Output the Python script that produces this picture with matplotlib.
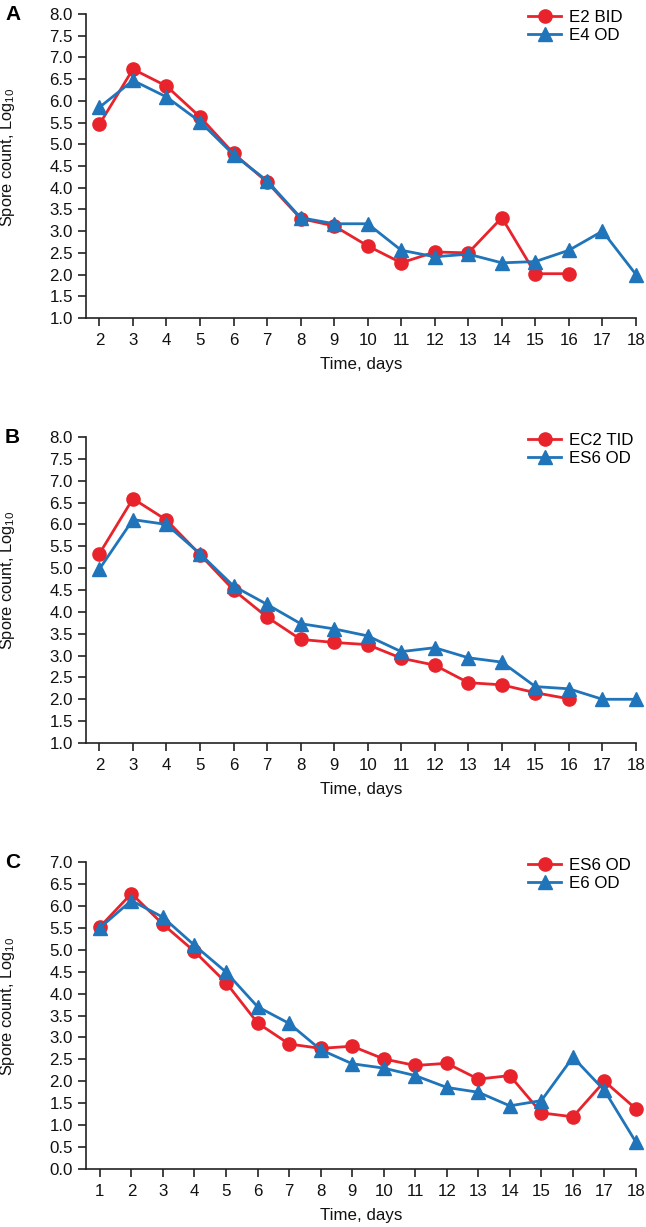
import matplotlib
matplotlib.use("Agg")
import matplotlib.pyplot as plt
import numpy as np

plt.rcParams['font.family'] = ['Liberation Sans', 'DejaVu Sans']
plt.rcParams['mathtext.default'] = 'regular'

RED = '#E8232B'
BLUE = '#1F74BA'

# Panel A
a_days_red = list(range(2, 17))
a_e2_bid = [5.46, 6.73, 6.34, 5.63, 4.79, 4.13, 3.29, 3.12, 2.66, 2.27, 2.52, 2.50, 3.31, 2.02, 2.02]
a_days_blue = list(range(2, 19))
a_e4_od = [5.85, 6.47, 6.09, 5.52, 4.76, 4.16, 3.31, 3.17, 3.17, 2.56, 2.41, 2.47, 2.27, 2.30, 2.56, 3.00, 2.00]

# Panel B
b_days_red = list(range(2, 17))
b_ec2_tid = [5.33, 6.59, 6.10, 5.31, 4.50, 3.88, 3.37, 3.30, 3.25, 2.94, 2.78, 2.38, 2.33, 2.15, 2.01]
b_days_blue = list(range(2, 19))
b_es6_od = [4.98, 6.11, 6.00, 5.33, 4.59, 4.17, 3.73, 3.61, 3.45, 3.09, 3.18, 2.95, 2.85, 2.29, 2.24, 2.00, 2.00]

# Panel C
c_days = list(range(1, 19))
c_es6_od = [5.52, 6.28, 5.58, 4.96, 4.25, 3.33, 2.85, 2.75, 2.80, 2.51, 2.36, 2.41, 2.05, 2.13, 1.28, 1.19, 2.00, 1.37]
c_e6_od = [5.50, 6.12, 5.74, 5.10, 4.49, 3.70, 3.32, 2.72, 2.40, 2.30, 2.13, 1.86, 1.75, 1.44, 1.56, 2.55, 1.79, 0.61]

panels = [
    dict(letter='A', xr=a_days_red, yr=a_e2_bid, lr='E2 BID', xb=a_days_blue, yb=a_e4_od, lb='E4 OD',
         ylim=(1.0, 8.0), xticks=list(range(2, 19)), xlim=(1.6, 18)),
    dict(letter='B', xr=b_days_red, yr=b_ec2_tid, lr='EC2 TID', xb=b_days_blue, yb=b_es6_od, lb='ES6 OD',
         ylim=(1.0, 8.0), xticks=list(range(2, 19)), xlim=(1.6, 18)),
    dict(letter='C', xr=c_days, yr=c_es6_od, lr='ES6 OD', xb=c_days, yb=c_e6_od, lb='E6 OD',
         ylim=(0.0, 7.0), xticks=list(range(1, 19)), xlim=(0.56, 18)),
]

W, H = 646, 1227
fig = plt.figure(figsize=(W / 100, H / 100), dpi=100)

tops = [14, 437, 862]
bottoms = [318, 743, 1169]
left_px, right_px = 86, 636
FS = 12.2
SPINE = '#222222'

for p, t, b in zip(panels, tops, bottoms):
    ax = fig.add_axes([left_px / W, 1 - b / H, (right_px - left_px) / W, (b - t) / H])
    ax.plot(p['xr'], p['yr'], color=RED, lw=2.0, marker='o', ms=9.5, label=p['lr'], clip_on=False, zorder=3)
    ax.plot(p['xb'], p['yb'], color=BLUE, lw=2.0, marker='^', ms=9.5, label=p['lb'], clip_on=False, zorder=4)
    ax.set_xlim(*p['xlim'])
    ax.set_ylim(*p['ylim'])
    ax.set_xticks(p['xticks'])
    yt = np.arange(p['ylim'][0], p['ylim'][1] + 0.01, 0.5)
    ax.set_yticks(yt)
    ax.set_yticklabels([f'{v:.1f}' for v in yt])
    for s in ['top', 'right']:
        ax.spines[s].set_visible(False)
    for s in ['left', 'bottom']:
        ax.spines[s].set_linewidth(1.2)
        ax.spines[s].set_color(SPINE)
    ax.tick_params(axis='both', direction='out', length=6, width=1.2, color=SPINE, labelsize=FS, labelcolor='#111111')
    ax.tick_params(axis='y', pad=3.5)
    ax.tick_params(axis='x', pad=5)
    ax.set_xlabel('Time, days', fontsize=FS, labelpad=6, color='#111111')
    ax.set_ylabel('Spore count, Log$_{10}$', fontsize=11.8, color='#111111')
    ax.yaxis.set_label_coords((17 - left_px) / (right_px - left_px), 0.53)
    ax.legend(loc='upper left', bbox_to_anchor=((528 - left_px) / (right_px - left_px), 1 + 4 / (b - t)),
              frameon=False, fontsize=FS, borderpad=0, borderaxespad=0, handlelength=1.95,
              handletextpad=0.45, labelspacing=0.2)
    fig.text(5 / W, 1 - (t - 9) / H, p['letter'], fontsize=15, fontweight='bold', va='top', ha='left')

fig.savefig('out.png', dpi=100)
